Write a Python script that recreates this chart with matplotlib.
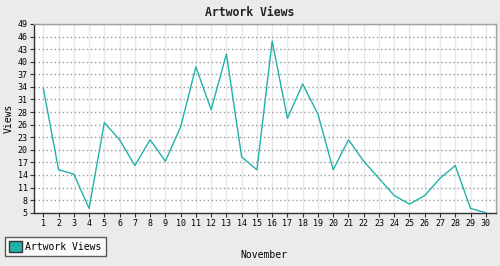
import numpy as np
import matplotlib.pyplot as plt
from matplotlib.patches import Patch

# Daily artwork views for November
days = list(range(1, 31))
views = [34, 15, 14, 6, 26, 22, 16, 22, 17, 25, 39, 29, 42, 18, 15,
         45, 27, 35, 28, 15, 22, 17, 13, 9, 7, 9, 13, 16, 6, 5]
y_min, y_max = 5, 49
y_labels = ["5", "8", "11", "14", "17", "20", "23", "26", "28", "31",
            "34", "37", "40", "43", "46", "49"]

line_color = "#20b2aa"
mono = "DejaVu Sans Mono"

fig = plt.figure(figsize=(5, 2.66), dpi=100, facecolor="#ebebeb")
ax = fig.add_axes([0.068, 0.2004, 0.924, 0.7094])
ax.set_facecolor("white")

ax.plot(days, views, color=line_color, lw=1.0, zorder=3)

ax.set_xlim(0.39, 30.67)
ax.set_ylim(y_min, y_max)
ax.set_xticks(days)
ax.set_xticklabels([str(d) for d in days], family=mono, fontsize=6)
ax.set_yticks(np.linspace(y_min, y_max, len(y_labels)))
ax.set_yticklabels(y_labels, family=mono, fontsize=6)
ax.tick_params(axis="both", length=3, width=0.8, color="#333333", pad=1.5)

# grid: light solid verticals, dotted horizontals
ax.grid(axis="x", color="#e8e8e8", lw=1.0, ls="-", zorder=0)
ax.grid(axis="y", color="#999999", lw=1.0, ls=(0, (1, 1.9)), zorder=1)

for side in ("top", "right"):
    ax.spines[side].set_color("#a0a0a0")
    ax.spines[side].set_linewidth(1.0)
for side in ("left", "bottom"):
    ax.spines[side].set_color("#333333")
    ax.spines[side].set_linewidth(1.0)

ax.set_ylabel("Views", family=mono, fontsize=7, labelpad=3)
fig.text(0.527, 1 - 255.5 / 266, "November", family=mono, fontsize=7,
         ha="center", va="center")
fig.text(0.5, 1 - 12 / 266, "Artwork Views", family=mono, fontsize=8.3,
         weight="bold", ha="center", va="center", color="#222222")

handle = Patch(facecolor=line_color, edgecolor="#333333", lw=1.0)
leg = fig.legend([handle], ["Artwork Views"], loc="lower left",
                 bbox_to_anchor=(5 / 500, 1 - 256 / 266),
                 prop={"family": mono, "size": 7}, frameon=True,
                 fancybox=False, borderpad=0.45, handlelength=1.3,
                 handleheight=1.3, handletextpad=0.35, borderaxespad=0)
leg.get_frame().set_edgecolor("#333333")
leg.get_frame().set_linewidth(1.0)
leg.get_frame().set_facecolor("white")

fig.savefig("out.png", dpi=100, facecolor=fig.get_facecolor())
